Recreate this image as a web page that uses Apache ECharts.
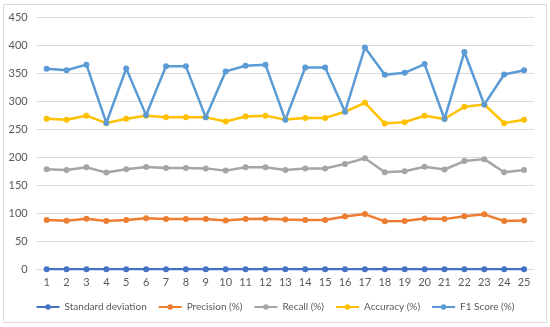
<!DOCTYPE html>
<html><head><meta charset="utf-8">
<script src="https://cdn.jsdelivr.net/npm/echarts@6/dist/echarts.min.js"></script>
<style>html,body{margin:0;padding:0;background:#fff}#c{width:550px;height:327px}</style>
</head><body><div id="c"></div>
<script>
const categories = ['1','2','3','4','5','6','7','8','9','10','11','12','13','14','15','16','17','18','19','20','21','22','23','24','25'];
const stdDev   = [0.3,0.3,0.3,0.3,0.3,0.3,0.3,0.3,0.3,0.3,0.3,0.3,0.3,0.3,0.3,0.3,0.3,0.3,0.3,0.3,0.3,0.3,0.3,0.3,0.3];
const precision= [88,86.5,90,86,88,91,89.5,89.5,89.5,87,89.5,90,88.7,88,88,94,98.5,85.5,86,90.5,89.5,94.5,98,86,87];
const recall   = [178.5,177.3,182,172.5,178.5,182.5,180.5,180.5,180,176,182,182,177.3,179.8,179.8,188,198,173,175,183,178,193,196.5,173,177.3];
const accuracy = [268.4,266.6,274,260.7,268.4,274,271,271,271,263.6,272.5,274,267,270,270,281,297,260,262.5,273.8,268,290,294,260.7,266.6];
const f1Score  = [357.7,355,365,261,358,275,362,362,271,353,363,365,266.6,360,360,281,395.7,347,350.5,366,268,387.5,294,347.5,355];
const yTicks = {min:0, max:450, interval:50};
const names = ['Standard deviation','Precision (%)','Recall (%)','Accuracy (%)','F1 Score (%)'];
const colors = ['#4472C4','#ED7D31','#A5A5A5','#FFC000','#5B9BD5'];
const datas = [stdDev, precision, recall, accuracy, f1Score];
const font = 'Lato, "Liberation Sans", sans-serif';
const chart = echarts.init(document.getElementById('c'), null, {renderer:'canvas'});
chart.setOption({
  animation:false,
  color: colors,
  textStyle:{fontFamily:font},
  graphic:[{type:'rect', shape:{x:3.5,y:4.5,width:543,height:318}, style:{fill:'none', stroke:'#D9D9D9', lineWidth:1}, silent:true, z:-10}],
  grid:{left:36.7, right:16, top:17, bottom:57.7, containLabel:false},
  legend:{
    bottom:10, left:'center', itemWidth:23, itemHeight:7, itemGap:11,
    textStyle:{color:'#595959', fontSize:10, fontFamily:font},
    data: names
  },
  xAxis:{
    type:'category', data:categories, boundaryGap:true,
    axisLine:{show:true, lineStyle:{color:'#D9D9D9'}},
    axisTick:{show:false},
    axisLabel:{color:'#595959', fontSize:11, fontFamily:font, margin:8, interval:0}
  },
  yAxis:{
    type:'value', min:yTicks.min, max:yTicks.max, interval:yTicks.interval,
    axisLine:{show:false}, axisTick:{show:false},
    splitLine:{lineStyle:{color:'#D9D9D9', width:1}},
    axisLabel:{color:'#595959', fontSize:11, fontFamily:font, margin:9}
  },
  series: names.map((n,i)=>({
    name:n, type:'line', data:datas[i], symbol:'circle', symbolSize:6,
    lineStyle:{width:2.5, color:colors[i]}, itemStyle:{color:colors[i]}
  }))
});
</script></body></html>
